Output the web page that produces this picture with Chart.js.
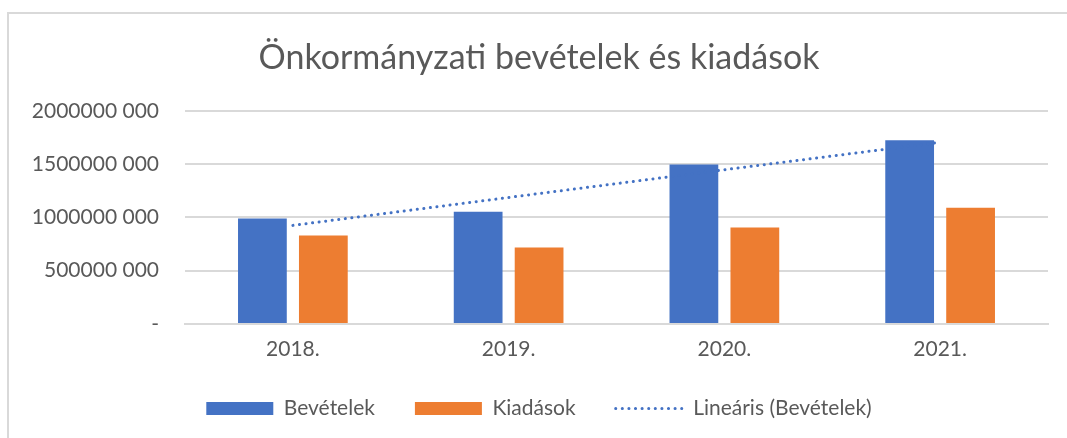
<!DOCTYPE html>
<html>
<head>
<meta charset="utf-8">
<script src="https://cdn.jsdelivr.net/npm/chart.js@4.4.0/dist/chart.umd.min.js"></script>
<style>
  html, body { margin: 0; padding: 0; background: #fff; overflow: hidden; }
  #frame {
    position: absolute; left: 7px; top: 12px; width: 1100px; height: 440px;
    border-left: 2px solid #d9d9d9; border-top: 2px solid #d9d9d9;
  }
  #chart { position: absolute; left: 0; top: 0; }
</style>
</head>
<body>
<div id="frame"></div>
<canvas id="chart" width="1067" height="438"></canvas>
<script>
const years = ['2018.', '2019.', '2020.', '2021.'];
const bevetelek = [990000000, 1053000000, 1497000000, 1723000000];
const kiadasok = [830000000, 717000000, 906000000, 1091000000];
// trend line
const trend = [925000000, 1187000000, 1447000000, 1705000000];
const yTickLabels = ['-', '500000 000', '1000000 000', '1500000 000', '2000000 000'];

const FONT = 'Lato, "Noto Sans", sans-serif';
const GREY = '#595959';
const DOTS = [0.1, 6.5];

const ctx = document.getElementById('chart').getContext('2d');
new Chart(ctx, {
  type: 'bar',
  data: {
    labels: years,
    datasets: [
      {
        label: 'Bevételek',
        data: bevetelek,
        backgroundColor: '#4472c4',
        order: 2,
      },
      {
        label: 'Kiadások',
        data: kiadasok,
        backgroundColor: '#ed7d31',
        order: 2,
      },
      {
        type: 'line',
        label: 'Lineáris (Bevételek)',
        data: trend,
        borderColor: '#4472c4',
        backgroundColor: '#4472c4',
        borderWidth: 3,
        borderDash: DOTS,
        borderCapStyle: 'round',
        pointRadius: 0,
        fill: false,
        order: 1,
      },
    ],
  },
  options: {
    responsive: false,
    animation: false,
    categoryPercentage: 0.565,
    barPercentage: 0.8,
    layout: { padding: { left: 30, right: 19, top: 24, bottom: 9 } },
    plugins: {
      title: {
        display: true,
        text: 'Önkormányzati bevételek és kiadások',
        color: GREY,
        font: { family: FONT, size: 34, weight: 'normal' },
        padding: { top: 14, bottom: 32 },
      },
      legend: {
        position: 'bottom',
        labels: {
          color: GREY,
          font: { family: FONT, size: 21 },
          usePointStyle: true,
          pointStyleWidth: 67,
          boxHeight: 13,
          padding: 40,
          generateLabels(chart) {
            return chart.data.datasets.map((ds, i) => {
              const isLine = ds.type === 'line';
              return {
                text: ds.label,
                fillStyle: isLine ? 'rgba(0,0,0,0)' : ds.backgroundColor,
                strokeStyle: ds.borderColor || ds.backgroundColor,
                lineWidth: isLine ? 3 : 0,
                lineDash: isLine ? DOTS : [],
                lineCap: 'round',
                fontColor: GREY,
                pointStyle: isLine ? 'line' : 'rect',
                datasetIndex: i,
              };
            });
          },
        },
      },
      tooltip: { enabled: false },
    },
    scales: {
      x: {
        grid: { display: false, drawTicks: false },
        border: { color: '#d9d9d9', width: 2 },
        ticks: { color: GREY, font: { family: FONT, size: 21 }, padding: 13 },
        afterFit(scale) { scale.height = 34; },
      },
      y: {
        min: 0,
        max: 2000000000,
        grid: { color: '#d9d9d9', lineWidth: 2, drawTicks: false },
        border: { display: false },
        ticks: {
          stepSize: 500000000,
          color: GREY,
          font: { family: FONT, size: 21 },
          padding: 26,
          callback: (v, i) => yTickLabels[i],
        },
        afterFit(scale) { scale.width = 155; },
      },
    },
  },
});
</script>
</body>
</html>
